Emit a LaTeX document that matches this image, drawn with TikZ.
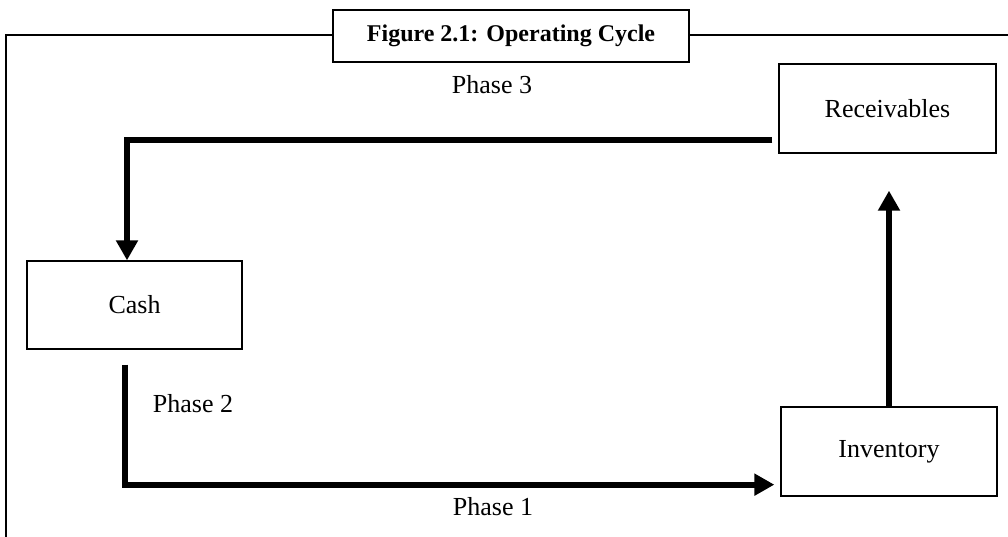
\documentclass[tikz,border=0pt]{standalone}
\usepackage{fontspec}
\setmainfont{Liberation Serif}
\usetikzlibrary{arrows.meta,calc}
\begin{document}
\begin{tikzpicture}[x=1pt,y=-1pt,
  stage/.style={draw,line width=1.3pt,minimum width=216pt,minimum height=89pt,inner sep=0pt,font=\fontsize{26}{29}\selectfont},
  lbl/.style={inner sep=0pt,font=\fontsize{26}{29}\selectfont},
  bigarrow/.style={line width=6pt,-{Triangle[length=20pt,width=21pt]}},
  frame/.style={line width=2pt}]
\useasboundingbox (0,0) rectangle (1008,536);
% outer frame
\coordinate (fbl) at (6,540);
\coordinate (ftl) at (6,35);
\coordinate (ftr) at (1012,35);
\draw[frame] (fbl) -- (ftl) -- (ftr);
% title
\node[draw,fill=white,frame,minimum width=356pt,minimum height=52pt,inner sep=0pt,
  font=\bfseries\fontsize{24}{27}\selectfont] (title) at (511,36) {Figure 2.1: Operating Cycle};
% stages
\node[stage,minimum width=217pt] (rec) at (887.5,108.5) {Receivables};
\node[stage,minimum width=215pt,minimum height=88pt] (cash) at (134.5,305) {Cash};
\node[stage] (inv) at (889,451.5) {Inventory};
% labels
\node[lbl] (p3) at (492,85) {Phase 3};
\node[lbl] (p2) at (193,404) {Phase 2};
\node[lbl] (p1) at (493,507) {Phase 1};
% connectors
\coordinate (p3s) at ($(rec.south west)+(-6,-14)$);
\coordinate (p3e) at ($(cash.north)+(-7.5,0)$);
\draw[bigarrow] (p3s) -| (p3e);
\coordinate (p2s) at ($(cash.south)+(-9.5,15)$);
\coordinate (p1e) at ($(inv.south west)+(-6,-12)$);
\draw[bigarrow] (p2s) |- (p1e);
\coordinate (upe) at ($(inv.north |- rec.south)+(0,37)$);
\draw[bigarrow] (inv.north) -- (upe);
\end{tikzpicture}
\end{document}
